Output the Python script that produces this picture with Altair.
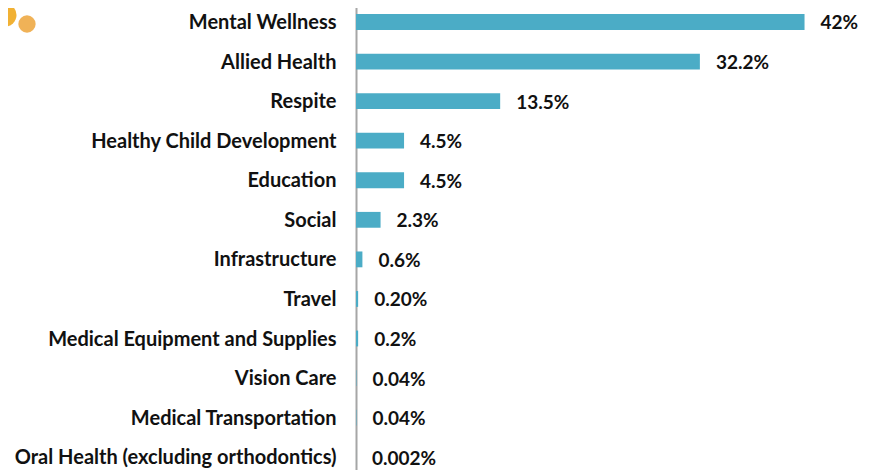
import altair as alt
import pandas as pd

categories = ["Mental Wellness", "Allied Health", "Respite", "Healthy Child Development",
              "Education", "Social", "Infrastructure", "Travel",
              "Medical Equipment and Supplies", "Vision Care", "Medical Transportation",
              "Oral Health (excluding orthodontics)"]
values = [42, 32.2, 13.5, 4.5, 4.5, 2.3, 0.6, 0.2, 0.2, 0.04, 0.04, 0.002]
labels = ["42%", "32.2%", "13.5%", "4.5%", "4.5%", "2.3%", "0.6%", "0.20%", "0.2%", "0.04%", "0.04%", "0.002%"]

df = pd.DataFrame({"category": categories, "value": values, "label": labels})
FONT = "Lato"

x = alt.X("value:Q", scale=alt.Scale(domain=[0, 48.13], nice=False, zero=True), axis=None)
y = alt.Y("category:N", sort=categories, title=None,
          scale=alt.Scale(range=[-5.8, 469], paddingInner=0.6, paddingOuter=0.3),
          axis=alt.Axis(labelFont=FONT, labelFontWeight="bold", labelFontSize=20, labelColor="#111111",
                        labelPadding=20, labelOffset=1, labelLimit=400, ticks=False,
                        domainColor="#a6a6a6", domainWidth=2, grid=False))

bars = alt.Chart(df).mark_bar(color="#4bacc6").encode(x=x, y=y)
text = alt.Chart(df).mark_text(align="left", baseline="middle", dx=16, dy=1.5, font=FONT,
                               fontWeight="bold", fontSize=19, color="#111111").encode(x=x, y=y, text="label:N")

# orange decorative blobs in the top-left corner of the picture
blob_a = alt.Chart(df.head(1)).mark_circle(color="#f0a81e", opacity=0.9, size=530, clip=False).encode(
    x=alt.value(-351), y=alt.value(7))
blob_b = alt.Chart(df.head(1)).mark_circle(color="#eda53a", opacity=0.85, size=300, clip=False).encode(
    x=alt.value(-329), y=alt.value(16))

chart = (bars + text + blob_a + blob_b).properties(
    width=514, height=454,
    autosize=alt.AutoSizeParams(type="none"),
    padding={"left": 348, "top": 0, "right": 0, "bottom": 8},
).configure_view(stroke=None)

chart.save("out.html", embed_options={"renderer": "svg", "actions": False})
